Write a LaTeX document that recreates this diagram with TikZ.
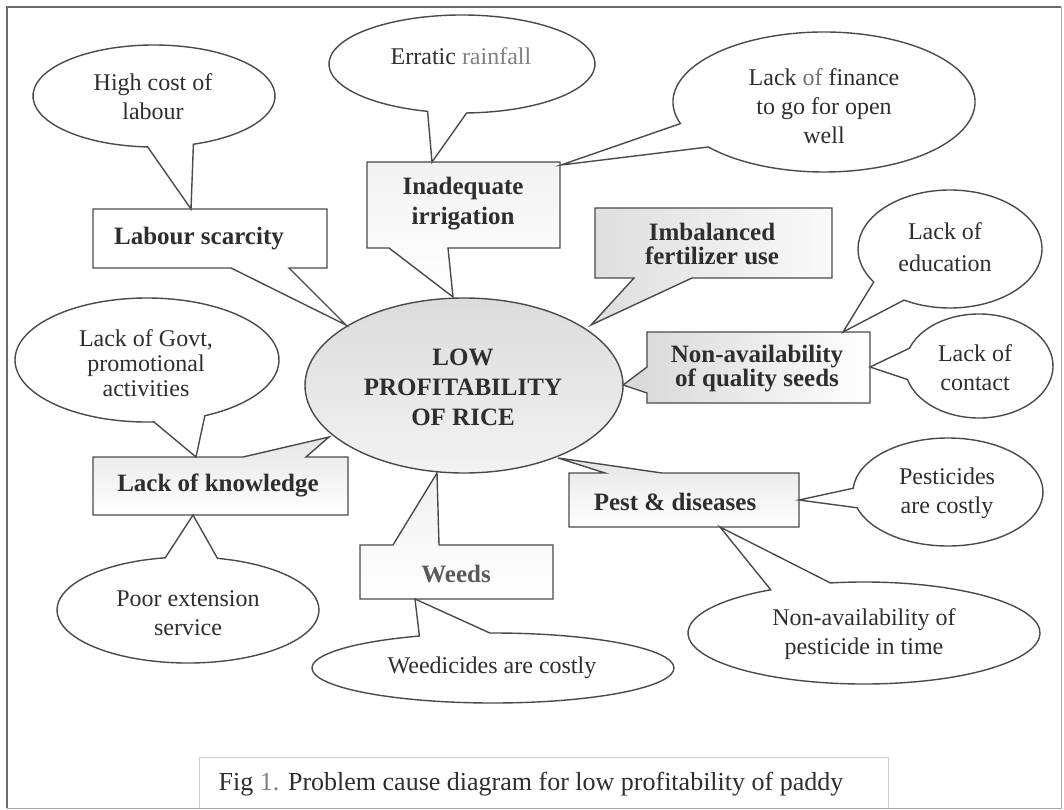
\documentclass[tikz,border=0pt]{standalone}
\usepackage{fontspec}
\setmainfont{Liberation Serif}
\definecolor{linec}{HTML}{4A4A4A}
\definecolor{textc}{HTML}{2E2E2E}
\definecolor{framec}{HTML}{6A6A6A}
\begin{document}
\begin{tikzpicture}[x=1pt,y=-1pt,
  cshape/.style={draw=linec, line width=1.4pt, line join=miter, fill=white},
  txt/.style={font=\fontsize{24}{29}\selectfont, align=center, text=textc, inner sep=0pt},
  bld/.style={font=\bfseries\fontsize{25}{30}\selectfont, align=center, text=textc, inner sep=0pt}]
\useasboundingbox (0,0) rectangle (1064,810);
\fill[white] (0,0) rectangle (1064,810);
% frame and caption box
\draw[black!35, line width=1pt] (1061,7) -- (1061,808) -- (7,808);
\draw[framec, line width=1.3pt] (7,808) -- (7,7) -- (1061,7);
\draw[black!20, line width=1pt] (199,808) -- (199,757) -- (888,757) -- (888,808);
% tip coordinates
\coordinate (tLS) at (346,325);
\coordinate (tII) at (453,297);
\coordinate (tIM) at (591,325);
\coordinate (tNS) at (623,385);
\coordinate (tLK) at (329,437);
\coordinate (tWD) at (437,473);
\coordinate (tPD) at (558,458);
\coordinate (tHC) at (191,209);
\coordinate (tER) at (432,162);
\coordinate (tLF) at (561,165);
\coordinate (tLG) at (196,457);
\coordinate (tPE) at (193,515);
\coordinate (tWC) at (415,599);
\coordinate (tLE) at (843,332);
\coordinate (tLC) at (870,367);
\coordinate (tPC) at (799,500);
\coordinate (tNP) at (720,527);
% central ellipse
\draw[cshape, top color=black!14, bottom color=black!5] (464,385.5) ellipse [x radius=159, y radius=87.5];
% boxes with their pointers
\draw[cshape] (289,268) -- (327,268) -- (327,209) -- (93,209) -- (93,268) -- (231,268) -- (tLS) -- cycle;
\draw[cshape, top color=black!5, bottom color=white] (448,248) -- (560,248) -- (560,162) -- (367,162) -- (367,248) -- (389,248) -- (tII) -- cycle;
\draw[cshape, left color=black!13, right color=black!2] (692,278) -- (832,278) -- (832,208) -- (595,208) -- (595,278) -- (634,278) -- (tIM) -- cycle;
\draw[cshape, left color=black!16, right color=white] (647,393) -- (647,403) -- (870,403) -- (870,332) -- (647,332) -- (647,367) -- (tNS) -- cycle;
\draw[cshape, top color=black!10, bottom color=white] (243,457) -- (93,457) -- (93,515) -- (348,515) -- (348,457) -- (306,457) -- (tLK) -- cycle;
\draw[cshape, top color=black!6, bottom color=white] (393,545) -- (360,545) -- (360,599) -- (553,599) -- (553,545) -- (439,545) -- (tWD) -- cycle;
\draw[cshape, top color=black!10, bottom color=white] (605,473) -- (569,473) -- (569,527) -- (799,527) -- (799,473) -- (662,473) -- (tPD) -- cycle;
% ellipses with their pointers
\draw[cshape] (154,96) ++(93:121 and 51) arc[start angle=93, end angle=431, x radius=121, y radius=51] -- (tHC) -- cycle;
\draw[cshape] (462,64) ++(105:133 and 49) arc[start angle=105, end angle=448, x radius=133, y radius=49] -- (tER) -- cycle;
\draw[cshape] (824,102) ++(162:151 and 70) arc[start angle=162, end angle=500, x radius=151, y radius=70] -- (tLF) -- cycle;
\draw[cshape] (147,360) ++(87:132 and 62) arc[start angle=87, end angle=424, x radius=132, y radius=62] -- (tLG) -- cycle;
\draw[cshape] (188,610) ++(283:131 and 53) arc[start angle=283, end angle=620, x radius=131, y radius=53] -- (tPE) -- cycle;
\draw[cshape] (493,668) ++(269:181 and 35) arc[start angle=269, end angle=606, x radius=181, y radius=35] -- (tWC) -- cycle;
\draw[cshape] (950,249) ++(146:92 and 59) arc[start angle=146, end angle=480, x radius=92, y radius=59] -- (tLE) -- cycle;
\draw[cshape] (979,366) ++(200:74 and 52) arc[start angle=200, end angle=525, x radius=74, y radius=52] -- (tLC) -- cycle;
\draw[cshape] (948,492) ++(184:95 and 54) arc[start angle=184, end angle=523, x radius=95, y radius=54] -- (tPC) -- cycle;
\draw[cshape] (864,633) ++(259:176 and 51) arc[start angle=259, end angle=598, x radius=176, y radius=51] -- (tNP) -- cycle;
% texts
\node[bld] (c) at (463,387) {LOW\\PROFITABILITY\\OF RICE};
\node[bld] (ls) at (199,239) {Labour scarcity};
\node[bld] (ii) at (463,204) {Inadequate\\irrigation};
\node[bld, font=\bfseries\fontsize{25}{24}\selectfont] (im) at (712,244) {Imbalanced\\fertilizer use};
\node[bld, font=\bfseries\fontsize{25}{24}\selectfont] (ns) at (757,369) {Non-availability\\of quality seeds};
\node[bld] (lk) at (218,485) {Lack of knowledge};
\node[bld, text=black!65] (wd) at (456,574) {Weeds};
\node[bld] (pd) at (675,502) {Pest \& diseases};
\node[txt] (hc) at (153,97) {High cost of\\labour};
\node[txt] (er) at (461,56) {Erratic {\color{black!50}rainfall}};
\node[txt] (lf) at (824,106) {Lack {\color{black!55}of} finance\\to go for open\\well};
\node[txt, font=\fontsize{24}{25}\selectfont] (lg) at (146,363) {Lack of Govt,\\promotional\\activities};
\node[txt] (pe) at (188,613) {Poor extension\\service};
\node[txt] (wc) at (492,668) {Weedicides are costly};
\node[txt, font=\fontsize{24}{32}\selectfont] (le) at (945,247) {Lack of\\education};
\node[txt] (lc) at (975,368) {Lack of\\contact};
\node[txt] (pc) at (947,493) {Pesticides\\are costly};
\node[txt] (np) at (864,634) {Non-availability of\\pesticide in time};
\node[txt, font=\fontsize{26}{30}\selectfont] (cap) at (531,784) {Fig {\color{black!50}1.} Problem cause diagram for low profitability of paddy};
\end{tikzpicture}
\end{document}
